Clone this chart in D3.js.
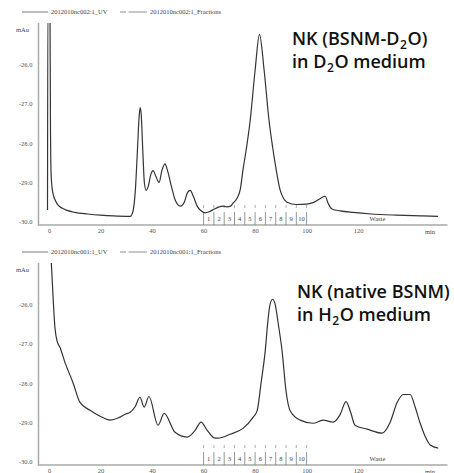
<!DOCTYPE html>
<html lang="en">
<head>
    <meta charset="UTF-8">
    <title>NK chromatograms</title>
    <script src="https://cdnjs.cloudflare.com/ajax/libs/d3/7.8.5/d3.min.js"></script>
    <style>
        body { margin: 0; background: #fff; }
        .axis path.domain { stroke: #a8a8a8; stroke-width: 1.5; }
        .axis text { font-family: "Liberation Serif", serif; font-size: 6.5px; fill: #555; }
        .small { font-family: "Liberation Serif", serif; font-size: 6.5px; fill: #444; }
        .note { font-family: "Open Sans", sans-serif; font-weight: 600; font-size: 18px; fill: #111; }
    </style>
</head>
<body>
<svg id="chart" width="454" height="473"></svg>
<script>

// time (min) / absorbance (mAu)
const d2oTime = [-0.6, -0.45, 0.35, 0.55, 0.8, 1.2, 1.8, 2.6, 3.6, 5, 7, 10, 15, 20, 25, 30, 31.5,
    32.5, 33.5, 34.3, 35.0, 35.4, 35.8, 36.4, 37.0, 37.7, 38.5, 39.5, 40.4, 41.5, 42.7, 43.8, 45,
    46, 47.5, 49, 51, 52.5, 53.8, 54.8, 56, 57.5, 59, 60.6, 62, 64, 66, 67.6, 69, 70.5, 71.5,
    73, 74.2, 75.3, 76.7, 78.1, 80.0, 81.7, 83.5, 85.4, 86.8, 88.2, 89.7, 91, 92.4, 96, 100,
    103, 105.5, 107.2, 108.5, 110, 113, 118, 125, 135, 145, 151];
const d2oValue = [-29.7, -24.5, -24.5, -27.6, -28.8, -29.15, -29.35, -29.48, -29.58, -29.65, -29.71, -29.76, -29.8, -29.83, -29.85, -29.86, -29.86,
    -29.75, -29.2, -28.2, -27.3, -27.1, -27.3, -28.2, -29.0, -29.2, -29.1, -28.8, -28.7, -28.85, -29.0, -28.7, -28.53,
    -28.7, -29.1, -29.45, -29.6, -29.5, -29.25, -29.2, -29.35, -29.6, -29.72, -29.77, -29.75, -29.68, -29.62, -29.6, -29.62, -29.6, -29.52,
    -29.4, -29.19, -28.68, -28.1, -27.42, -26.15, -25.24, -26.15, -27.42, -28.1, -28.68, -29.19, -29.4, -29.5, -29.56, -29.55,
    -29.5, -29.4, -29.35, -29.55, -29.68, -29.72, -29.76, -29.8, -29.83, -29.85, -29.86];

// time (min) / absorbance (mAu)
const h2oTime = [0.5, 1.0, 2.3, 3.1, 4.3, 6.2, 9.3, 12.0, 15.9, 19.8, 23.7, 27, 29.5, 31.5, 33.4, 35.3,
    36.9, 38.8, 42.3, 44.7, 48.9, 53.6, 56.7, 59.0, 61.4, 64.5, 65.6, 70.3, 75.3, 79.2, 80.8, 82.3,
    83.9, 85.0, 85.8, 86.8, 87.8, 89.0, 90.5, 92.0, 93.6, 97.5, 102.5, 106.4, 110.3, 113.0, 115.3,
    116.9, 118.8, 123.5, 129.3, 132.4, 135.1, 137.5, 140.2, 142.1, 144.1, 146.0, 148.0, 151.1];
const h2oValue = [-24.5, -25.1, -26.6, -26.93, -27.1, -27.48, -27.99, -28.49, -28.69, -28.84, -28.94, -28.88, -28.79, -28.74, -28.6, -28.36,
    -28.61, -28.34, -29.07, -28.77, -29.25, -29.37, -29.2, -28.99, -29.2, -29.4, -29.4, -29.3, -29.15, -28.87, -28.7, -28.0,
    -27.2, -26.4, -26.0, -25.87, -26.0, -26.5, -27.2, -28.2, -28.7, -28.94, -29.02, -28.94, -28.99, -28.8, -28.47,
    -28.7, -29.07, -29.17, -29.27, -29.0, -28.5, -28.29, -28.29, -28.6, -29.02, -29.35, -29.57, -29.65];

const xTicks = [0, 20, 40, 60, 80, 100, 120];
const yTicks = [-30, -29, -28, -27, -26];
const fractionEdges = [60, 64, 68, 72, 76, 80, 84, 88, 92, 96, 100];
const fractionLabels = ["1", "2", "3", "4", "5", "6", "7", "8", "9", "10"];
const wasteTime = 127.5;

const panels = [
    {run: "2012010nc002:1", time: d2oTime, value: d2oValue,
     line1: ["NK (BSNM-D", "2", "O)"], line2: ["in D", "2", "O medium"], noteX: 292},
    {run: "2012010nc001:1", time: h2oTime, value: h2oValue,
     line1: ["NK (native BSNM)"], line2: ["in H", "2", "O medium"], noteX: 297}
];

const svg = d3.select("#chart");

const x = d3.scaleLinear().domain([-4.1, 154.7]).range([38.5, 447.5]);
const y = d3.scaleLinear().domain([-30.08, -24.95]).range([225, 23]);

svg.append("defs").append("clipPath")
    .attr("id", "plotClip")
    .append("rect")
    .attr("x", 38.5).attr("y", 23)
    .attr("width", 410).attr("height", 202);

panels.forEach((p, i) => {
    const g = svg.append("g").attr("transform", "translate(0," + (i * 240) + ")");

    // legend
    g.append("line").attr("x1", 22).attr("x2", 48).attr("y1", 12).attr("y2", 12)
        .attr("stroke", "#9a9a9a").attr("stroke-width", 1.3);
    g.append("text").attr("class", "small").attr("x", 51).attr("y", 14.3).text(p.run + "_UV");
    g.append("line").attr("x1", 120).attr("x2", 147).attr("y1", 12).attr("y2", 12)
        .attr("stroke", "#b5b5b5").attr("stroke-width", 1.3)
        .attr("stroke-dasharray", "6,2.5,19");
    g.append("text").attr("class", "small").attr("x", 150).attr("y", 14.3).text(p.run + "_Fractions");

    g.append("text").attr("class", "small").attr("x", 16).attr("y", 32).text("mAu");

    // axes
    g.append("g").attr("class", "axis")
        .attr("transform", "translate(0,225)")
        .call(d3.axisBottom(x).tickValues(xTicks).tickSize(0).tickPadding(3).tickFormat(d3.format("d")));
    g.append("g").attr("class", "axis")
        .attr("transform", "translate(38.5,0)")
        .call(d3.axisLeft(y).tickValues(yTicks).tickSize(0).tickPadding(6).tickFormat(d => d.toFixed(1)));
    g.selectAll(".axis path.domain").attr("d", null);
    g.append("line").attr("x1", 38.5).attr("x2", 38.5).attr("y1", 23).attr("y2", 225.5)
        .attr("stroke", "#a8a8a8").attr("stroke-width", 1.5);
    g.append("line").attr("x1", 38).attr("x2", 447.5).attr("y1", 225).attr("y2", 225)
        .attr("stroke", "#a8a8a8").attr("stroke-width", 1.5);
    g.append("text").attr("class", "small").attr("x", 425).attr("y", 233.5).text("min");

    // fractions
    const fr = g.append("g");
    fr.selectAll(".edge").data(fractionEdges).enter().append("line")
        .attr("x1", d => x(d)).attr("x2", d => x(d))
        .attr("y1", 212).attr("y2", 225)
        .attr("stroke", "#8a8a8a").attr("stroke-width", 0.9);
    fr.selectAll(".dash").data(fractionEdges).enter().append("line")
        .attr("x1", d => x(d)).attr("x2", d => x(d))
        .attr("y1", 205).attr("y2", 208)
        .attr("stroke", "#999").attr("stroke-width", 0.8);
    fr.selectAll(".lab").data(fractionLabels).enter().append("text")
        .attr("class", "small")
        .attr("text-anchor", "middle")
        .attr("x", (d, k) => x((fractionEdges[k] + fractionEdges[k + 1]) / 2))
        .attr("y", 220.5)
        .text(d => d);
    fr.append("text").attr("class", "small").attr("text-anchor", "middle")
        .attr("x", x(wasteTime)).attr("y", 220.5).text("Waste");

    // trace
    const pts = p.time.map((t, k) => [t, p.value[k]]);
    g.append("path")
        .datum(pts)
        .attr("clip-path", "url(#plotClip)")
        .attr("fill", "none")
        .attr("stroke", "#333")
        .attr("stroke-width", 1.2)
        .attr("d", d3.line().x(d => x(d[0])).y(d => y(d[1])).curve(d3.curveMonotoneX));

    // annotation
    [p.line1, p.line2].forEach((parts, li) => {
        const t = g.append("text").attr("class", "note")
            .attr("x", p.noteX).attr("y", 45 + li * 23 + (i ? 13 : 0));
        parts.forEach((s, k) => {
            const sub = parts.length === 3 && k === 1;
            t.append("tspan")
                .attr("font-size", sub ? "12px" : null)
                .attr("dx", k > 0 ? 0.6 : null)
                .attr("dy", sub ? 4 : (k === 2 ? -4 : 0))
                .text(s);
        });
    });
});
</script>
</body>
</html>
